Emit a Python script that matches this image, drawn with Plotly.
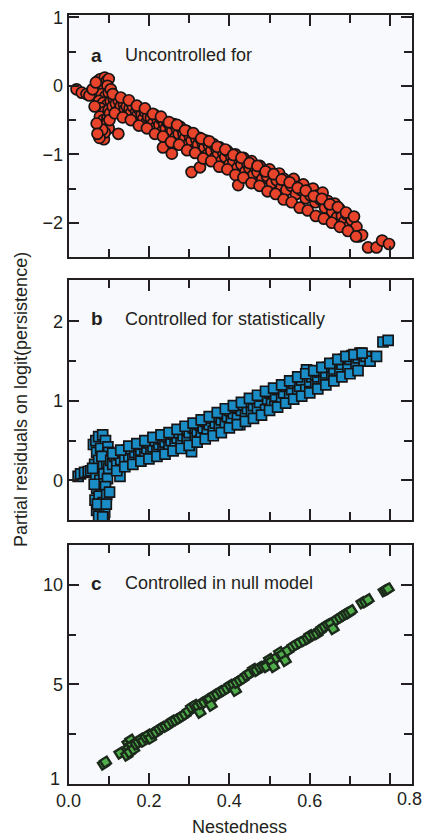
import plotly.graph_objects as go

# ---------------- data ----------------
# Panel a: uncontrolled for (red circles)
a_x = [0.020, 0.033, 0.045, 0.052,
       0.075, 0.080, 0.085, 0.090, 0.095, 0.100, 0.078, 0.088, 0.097, 0.082,
       0.092, 0.100, 0.076, 0.086, 0.096, 0.080, 0.090, 0.100, 0.078, 0.087,
       0.097, 0.082, 0.093, 0.085, 0.095, 0.088, 0.100, 0.090, 0.077, 0.084,
       0.060, 0.065, 0.070, 0.068, 0.072, 0.103, 0.105, 0.102,
       0.105, 0.110, 0.112, 0.118, 0.120, 0.125, 0.130, 0.132, 0.138, 0.140,
       0.145, 0.148, 0.152, 0.155, 0.160, 0.162, 0.168, 0.170, 0.175, 0.178,
       0.182, 0.186, 0.190, 0.195, 0.198, 0.200, 0.205, 0.210, 0.213, 0.218,
       0.222, 0.226, 0.230, 0.234, 0.238, 0.242, 0.246, 0.250, 0.254, 0.258,
       0.262, 0.266, 0.270, 0.274, 0.278, 0.282, 0.286, 0.290, 0.294, 0.298,
       0.302, 0.306, 0.310, 0.314, 0.318, 0.322, 0.326, 0.330, 0.334, 0.338,
       0.342, 0.346, 0.350, 0.355, 0.360, 0.364, 0.368, 0.372, 0.376, 0.380,
       0.385, 0.390, 0.395, 0.400, 0.405, 0.410, 0.415, 0.420, 0.425, 0.430,
       0.435, 0.440, 0.445, 0.450, 0.455, 0.460, 0.465, 0.470, 0.476, 0.482,
       0.488, 0.494, 0.500, 0.506, 0.512, 0.518, 0.524, 0.530, 0.536, 0.542,
       0.548, 0.554, 0.560, 0.566, 0.572, 0.578, 0.584, 0.590, 0.596, 0.602,
       0.608, 0.614, 0.620, 0.626, 0.632, 0.638, 0.644, 0.650, 0.656, 0.662,
       0.668, 0.674, 0.680, 0.686, 0.692, 0.698, 0.704, 0.710, 0.716, 0.722,
       0.730, 0.745, 0.766, 0.780, 0.797,
       0.124, 0.235, 0.257, 0.306, 0.327, 0.422,
       0.110, 0.130, 0.150, 0.170, 0.190, 0.210, 0.230, 0.250, 0.270, 0.290,
       0.310, 0.330, 0.350, 0.370, 0.390, 0.410, 0.430, 0.450, 0.470, 0.490,
       0.510, 0.530, 0.550, 0.570, 0.590, 0.610, 0.630, 0.650, 0.670, 0.690,
       0.710,
       0.115, 0.135, 0.155, 0.175, 0.195, 0.215, 0.235, 0.255, 0.275, 0.295,
       0.315, 0.335, 0.355, 0.375, 0.395, 0.415, 0.435, 0.455, 0.475, 0.495,
       0.515, 0.535, 0.555, 0.575, 0.595, 0.615, 0.635, 0.655, 0.675, 0.695,
       0.715]
a_y = [-0.05, -0.10, -0.12, -0.14,
       0.08, 0.10, 0.05, 0.12, 0.07, 0.10, -0.02, -0.05, 0.00, -0.12,
       -0.15, -0.10, -0.22, -0.25, -0.28, -0.33, -0.38, -0.35, -0.45, -0.50,
       -0.47, -0.58, -0.62, -0.70, -0.55, -0.78, -0.62, -0.68, -0.76, -0.64,
       -0.05, -0.30, -0.55, 0.05, -0.70, -0.40, -0.05, -0.50,
       -0.22, -0.30, -0.18, -0.26, -0.38, -0.22, -0.30, -0.42, -0.27, -0.35,
       -0.30, -0.45, -0.33, -0.40, -0.30, -0.50, -0.38, -0.44, -0.34, -0.55,
       -0.42, -0.48, -0.38, -0.52, -0.45, -0.60, -0.47, -0.55, -0.42, -0.60,
       -0.50, -0.57, -0.48, -0.66, -0.55, -0.62, -0.53, -0.70, -0.60, -0.66,
       -0.56, -0.75, -0.64, -0.70, -0.60, -0.82, -0.70, -0.76, -0.66, -0.85,
       -0.74, -0.80, -0.70, -0.92, -0.78, -0.86, -0.76, -0.97, -0.84, -0.90,
       -0.80, -1.00, -0.88, -0.95, -0.85, -1.05, -0.93, -1.00, -0.90, -1.10,
       -0.98, -1.04, -0.95, -1.15, -1.03, -1.10, -1.00, -1.20, -1.08, -1.15,
       -1.05, -1.25, -1.14, -1.20, -1.10, -1.30, -1.20, -1.26, -1.17, -1.36,
       -1.25, -1.32, -1.22, -1.42, -1.30, -1.38, -1.28, -1.48, -1.36, -1.52,
       -1.40, -1.46, -1.36, -1.58, -1.47, -1.52, -1.44, -1.64, -1.53, -1.60,
       -1.50, -1.70, -1.60, -1.66, -1.56, -1.78, -1.68, -1.74, -1.84, -1.72,
       -1.92, -1.80, -1.90, -1.98, -1.88, -2.05, -1.96, -2.14, -2.06, -2.20,
       -2.18, -2.36, -2.36, -2.26, -2.31,
       -0.70, -0.90, -0.99, -1.26, -1.19, -1.45,
       -0.12, -0.17, -0.21, -0.29, -0.33, -0.41, -0.45, -0.53, -0.57, -0.65,
       -0.69, -0.77, -0.81, -0.89, -0.93, -1.01, -1.05, -1.13, -1.17, -1.25,
       -1.29, -1.37, -1.41, -1.49, -1.53, -1.61, -1.65, -1.73, -1.77, -1.85,
       -1.91,
       -0.40, -0.46, -0.50, -0.58, -0.62, -0.70, -0.74, -0.82, -0.86, -0.94,
       -0.98, -1.06, -1.10, -1.18, -1.22, -1.30, -1.34, -1.42, -1.46, -1.54,
       -1.58, -1.66, -1.70, -1.78, -1.82, -1.90, -1.94, -2.00, -2.06, -2.12,
       -2.20]

# Panel b: controlled for statistically (blue squares)
b_x = [0.024, 0.030, 0.040, 0.049, 0.055,
       0.062, 0.068, 0.075, 0.085, 0.092, 0.070, 0.080, 0.090, 0.098, 0.065,
       0.075, 0.087, 0.095, 0.068, 0.078, 0.088, 0.097, 0.070, 0.082, 0.092,
       0.066, 0.076, 0.086, 0.095, 0.070, 0.080, 0.090, 0.075, 0.085, 0.072,
       0.060, 0.064, 0.100, 0.102, 0.094, 0.083,
       0.100, 0.105, 0.110, 0.115, 0.120, 0.125, 0.128, 0.130, 0.135, 0.140,
       0.145, 0.150, 0.155, 0.160, 0.165, 0.170, 0.175, 0.180, 0.185, 0.190,
       0.195, 0.200, 0.205, 0.210, 0.215, 0.220, 0.225, 0.230, 0.235, 0.240,
       0.245, 0.250, 0.255, 0.260, 0.265, 0.270, 0.275, 0.280, 0.285, 0.290,
       0.295, 0.300, 0.306, 0.310, 0.315, 0.320, 0.325, 0.330, 0.335, 0.340,
       0.345, 0.350, 0.355, 0.360, 0.365, 0.370, 0.375, 0.380, 0.385, 0.390,
       0.395, 0.400, 0.405, 0.410, 0.415, 0.420, 0.426, 0.430, 0.435, 0.440,
       0.445, 0.450, 0.455, 0.460, 0.465, 0.470, 0.475, 0.480, 0.490, 0.495,
       0.500, 0.505, 0.513, 0.515, 0.520, 0.530, 0.535, 0.540, 0.550, 0.555,
       0.560, 0.570, 0.575, 0.580, 0.592, 0.590, 0.600, 0.605, 0.615, 0.620,
       0.625, 0.635, 0.640, 0.645, 0.655, 0.660, 0.665, 0.675, 0.680, 0.685,
       0.695, 0.700, 0.705, 0.715, 0.720, 0.725, 0.735, 0.740, 0.750, 0.766,
       0.782, 0.795,
       0.110, 0.130, 0.150, 0.170, 0.190, 0.210, 0.230, 0.250, 0.270, 0.290,
       0.310, 0.330, 0.350, 0.370, 0.390, 0.410, 0.430, 0.450, 0.470, 0.490,
       0.510, 0.530, 0.550, 0.570, 0.590, 0.610, 0.630, 0.650, 0.670, 0.690,
       0.710, 0.730,
       0.120, 0.140, 0.160, 0.180, 0.200, 0.220, 0.240, 0.260, 0.280, 0.300,
       0.320, 0.340, 0.360, 0.380, 0.400, 0.420, 0.440, 0.460, 0.480, 0.500,
       0.520, 0.540, 0.560, 0.580, 0.600, 0.620, 0.640, 0.660, 0.680, 0.700,
       0.720]
b_y = [0.05, 0.08, 0.10, 0.11, 0.12,
       0.45, 0.50, 0.55, 0.57, 0.50, 0.35, 0.40, 0.30, 0.42, 0.20,
       0.25, 0.18, 0.22, 0.05, 0.00, 0.08, 0.02, -0.10, -0.12, -0.08,
       -0.25, -0.20, -0.28, -0.18, -0.38, -0.35, -0.40, -0.45, -0.46, -0.30,
       0.15, -0.05, 0.35, -0.15, -0.30, 0.30,
       0.15, 0.25, 0.20, 0.30, 0.22, 0.32, 0.05, 0.26, 0.35, 0.28,
       0.38, 0.30, 0.40, 0.27, 0.35, 0.42, 0.32, 0.38, 0.45, 0.30,
       0.40, 0.47, 0.35, 0.42, 0.50, 0.37, 0.45, 0.52, 0.40, 0.48,
       0.55, 0.42, 0.50, 0.58, 0.45, 0.53, 0.60, 0.47, 0.56, 0.64,
       0.50, 0.60, 0.36, 0.66, 0.53, 0.62, 0.70, 0.56, 0.66, 0.74,
       0.60, 0.70, 0.78, 0.62, 0.72, 0.80, 0.66, 0.76, 0.84, 0.70,
       0.80, 0.88, 0.74, 0.84, 0.92, 0.78, 0.70, 0.88, 0.95, 0.82,
       0.90, 0.98, 0.86, 0.94, 1.02, 0.90, 0.98, 1.06, 0.89, 1.02,
       1.10, 0.96, 0.93, 1.06, 1.14, 1.02, 1.10, 1.18, 1.06, 1.14,
       1.22, 1.10, 1.18, 1.26, 1.39, 1.14, 1.24, 1.30, 1.20, 1.30,
       1.36, 1.25, 1.35, 1.42, 1.30, 1.40, 1.47, 1.36, 1.46, 1.52,
       1.42, 1.52, 1.57, 1.46, 1.54, 1.60, 1.50, 1.56, 1.50, 1.56,
       1.74, 1.76,
       0.34, 0.38, 0.43, 0.46, 0.50, 0.54, 0.57, 0.60, 0.64, 0.68,
       0.72, 0.76, 0.80, 0.85, 0.90, 0.94, 0.98, 1.03, 1.07, 1.12,
       1.16, 1.20, 1.25, 1.30, 1.34, 1.38, 1.42, 1.47, 1.52, 1.56,
       1.58, 1.60,
       0.12, 0.17, 0.20, 0.24, 0.27, 0.30, 0.33, 0.37, 0.40, 0.44,
       0.48, 0.52, 0.56, 0.60, 0.66, 0.70, 0.74, 0.78, 0.82, 0.88,
       0.92, 0.97, 1.02, 1.06, 1.10, 1.15, 1.20, 1.25, 1.30, 1.34,
       1.38]

# Panel c: controlled in null model (green diamonds)
c_x = [0.087, 0.092, 0.128, 0.145, 0.148, 0.150, 0.152, 0.155, 0.158, 0.162,
       0.168, 0.174, 0.180, 0.186, 0.192, 0.198, 0.204, 0.210, 0.218, 0.226,
       0.234, 0.242, 0.250, 0.258, 0.266, 0.274, 0.282, 0.290, 0.298, 0.306,
       0.314, 0.322, 0.327, 0.330, 0.338, 0.346, 0.352, 0.355, 0.362, 0.370,
       0.378, 0.386, 0.394, 0.402, 0.410, 0.415, 0.418, 0.426, 0.434, 0.443,
       0.450, 0.460, 0.468, 0.476, 0.484, 0.492, 0.500, 0.505, 0.510, 0.518,
       0.525, 0.532, 0.539, 0.545, 0.558, 0.566, 0.575, 0.585, 0.595, 0.600,
       0.610, 0.618, 0.625, 0.630, 0.637, 0.645, 0.652, 0.658, 0.667, 0.675,
       0.683, 0.690, 0.697, 0.703, 0.730, 0.738, 0.745, 0.785, 0.790, 0.795]
c_y = [1.00, 1.10, 1.55, 1.45, 2.05, 1.80, 1.60, 2.20, 1.95, 1.75,
       2.00, 2.10, 2.25, 2.15, 2.35, 2.45, 2.30, 2.55, 2.60, 2.75,
       2.85, 2.90, 3.00, 3.15, 3.20, 3.30, 3.40, 3.50, 3.65, 3.85,
       3.95, 3.90, 3.60, 4.05, 4.10, 4.25, 4.25, 3.95, 4.45, 4.50,
       4.65, 4.70, 4.80, 4.95, 5.00, 4.70, 5.10, 5.20, 5.30, 5.45,
       5.55, 5.75, 5.70, 5.85, 5.90, 5.90, 6.25, 6.15, 5.90, 6.35,
       6.60, 6.50, 6.20, 6.70, 6.90, 7.00, 7.10, 7.20, 7.30, 7.45,
       7.50, 7.55, 7.70, 7.80, 7.90, 8.00, 8.05, 7.80, 8.25, 8.35,
       8.45, 8.55, 8.60, 8.70, 9.10, 9.15, 9.25, 9.70, 9.75, 9.80]

panel_letters = ["a", "b", "c"]
panel_titles = ["Uncontrolled for", "Controlled for statistically", "Controlled in null model"]

x_major = [0.0, 0.2, 0.4, 0.6, 0.8]
x_major_text = ["0.0", "0.2", "0.4", "0.6", ""]
x_minor = [0.1, 0.3, 0.5, 0.7]

a_major = [-2, -1, 0, 1]
a_minor = [-1.5, -0.5, 0.5]
b_major = [0, 1, 2]
b_minor = [0.5, 1.5]
c_major = [5, 10]
c_minor = [2.5, 7.5]

# ---------------- styling ----------------
W, H = 425, 838
INK = "#231f20"
FONT = "Liberation Sans, Arial, Helvetica, sans-serif"
FS = 18


def px(xp):
    return xp / W


def py(yp):
    return 1 - yp / H


XL, XR = 68.5, 411.5
dom_x = [px(XL), px(XR)]


def ydom(top_px, bottom_px):
    return [py(bottom_px), py(top_px)]


def xaxis(anchor, labels):
    return dict(
        domain=dom_x, anchor=anchor, range=[0, 0.853],
        showline=True, linecolor=INK, linewidth=1.6, mirror="ticks",
        ticks="inside", ticklen=11, tickwidth=1.6, tickcolor=INK,
        tickmode="array", tickvals=x_major, ticktext=x_major_text,
        showticklabels=labels, showgrid=False, zeroline=False,
        ticklabeloverflow="allow",
        tickfont=dict(family=FONT, size=FS, color=INK),
        minor=dict(tickmode="array", tickvals=x_minor, ticks="inside",
                   ticklen=8, tickwidth=1.6, tickcolor=INK, showgrid=False),
        automargin=False, fixedrange=True,
    )


def yaxis(anchor, dom, rng, major, minor):
    return dict(
        domain=dom, anchor=anchor, range=rng,
        showline=True, linecolor=INK, linewidth=1.6, mirror="ticks",
        ticks="inside", ticklen=11, tickwidth=1.6, tickcolor=INK,
        tickmode="array", tickvals=major,
        ticktext=[("\u2212" + str(abs(v))) if v < 0 else str(v) for v in major],
        showgrid=False, zeroline=False,
        ticklabeloverflow="allow",
        tickfont=dict(family=FONT, size=FS, color=INK),
        minor=dict(tickmode="array", tickvals=minor, ticks="inside",
                   ticklen=8, tickwidth=1.6, tickcolor=INK, showgrid=False),
        automargin=False, fixedrange=True,
    )


fig = go.Figure()
fig.add_trace(go.Scatter(
    x=a_x, y=a_y, mode="markers", xaxis="x", yaxis="y", showlegend=False,
    marker=dict(symbol="circle", size=11, color="#e8432b",
                line=dict(color="#161414", width=1.7))))
fig.add_trace(go.Scatter(
    x=b_x, y=b_y, mode="markers", xaxis="x2", yaxis="y2", showlegend=False,
    marker=dict(symbol="square", size=10, color="#1a8cc6",
                line=dict(color="#161414", width=1.7))))
fig.add_trace(go.Scatter(
    x=c_x, y=c_y, mode="markers", xaxis="x3", yaxis="y3", showlegend=False,
    marker=dict(symbol="square", size=8, angle=-32, color="#4fae4a",
                line=dict(color="#1c2a1c", width=2.4))))

annotations = []
label_y = [0.45, 2.03, 10.07]
axes_ids = [("x", "y"), ("x2", "y2"), ("x3", "y3")]
for (xr, yr), letter, title, ly in zip(axes_ids, panel_letters, panel_titles, label_y):
    annotations.append(dict(xref=xr, yref=yr, x=0.0708, y=ly, text="<b>" + letter + "</b>",
                            showarrow=False, xanchor="center", yanchor="middle",
                            font=dict(family=FONT, size=FS + 1, color=INK)))
    annotations.append(dict(xref=xr, yref=yr, x=0.1354, y=ly, text=title,
                            showarrow=False, xanchor="left", yanchor="middle",
                            font=dict(family=FONT, size=FS, color=INK)))

# end labels placed where the reference draws them
annotations.append(dict(xref="paper", yref="paper", x=px(409), y=py(799), text="0.8",
                        showarrow=False, xanchor="center", yanchor="middle",
                        font=dict(family=FONT, size=FS, color=INK)))
annotations.append(dict(xref="paper", yref="paper", x=px(62), y=py(779), text="1",
                        showarrow=False, xanchor="right", yanchor="middle",
                        font=dict(family=FONT, size=FS, color=INK)))
# axis titles
annotations.append(dict(xref="paper", yref="paper", x=px(239), y=py(827), text="Nestedness",
                        showarrow=False, xanchor="center", yanchor="middle",
                        font=dict(family=FONT, size=FS, color=INK)))
annotations.append(dict(xref="paper", yref="paper", x=px(21), y=py(400),
                        text="Partial residuals on logit(persistence)", textangle=-90,
                        showarrow=False, xanchor="center", yanchor="middle",
                        font=dict(family=FONT, size=FS, color=INK)))

fig.update_layout(
    width=W, height=H,
    margin=dict(l=0, r=0, t=0, b=0),
    paper_bgcolor="white", plot_bgcolor="#f8f9fc",
    xaxis=xaxis("y", False),
    xaxis2=xaxis("y2", False),
    xaxis3=xaxis("y3", True),
    yaxis=yaxis("x", ydom(15, 257), [-2.5, 1.035], a_major, a_minor),
    yaxis2=yaxis("x2", ydom(280, 520), [-0.5, 2.52], b_major, b_minor),
    yaxis3=yaxis("x3", ydom(545, 784), [0, 12], c_major, c_minor),
    annotations=annotations,
    showlegend=False,
    hovermode=False,
)

fig.write_html(
    "out.html",
    config={"displayModeBar": False},
    post_script="document.body.style.margin='0';document.body.style.overflow='hidden';",
)
